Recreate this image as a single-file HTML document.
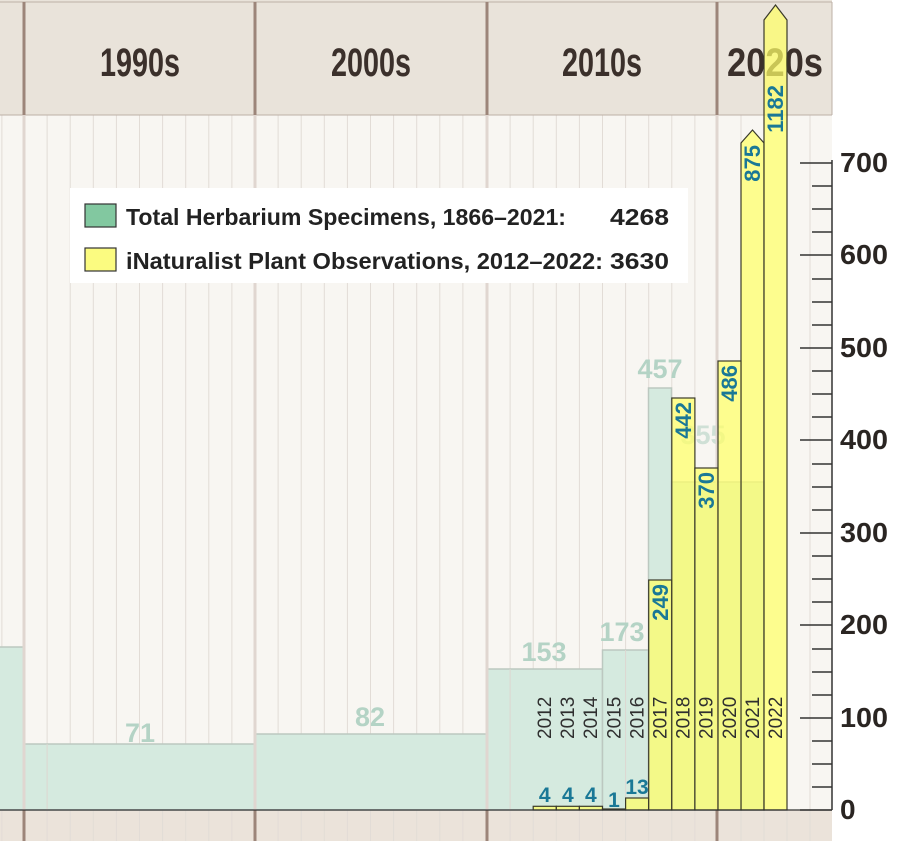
<!DOCTYPE html>
<html><head><meta charset="utf-8"><style>html,body{margin:0;padding:0;background:#fff}svg{display:block}</style></head><body>
<svg width="900" height="841" viewBox="0 0 900 841" xmlns="http://www.w3.org/2000/svg" font-family="Liberation Sans Narrow, Liberation Sans, sans-serif">
<rect x="0" y="0" width="832" height="115" fill="#e9e3da"/>
<rect x="0" y="115" width="832" height="695" fill="#f8f6f2"/>
<rect x="0" y="810" width="832" height="31" fill="#ebe3da"/>
<g stroke="#e2dcd6" stroke-width="1">
<line x1="1.9" y1="115" x2="1.9" y2="841"/><line x1="47.1" y1="115" x2="47.1" y2="841"/><line x1="70.2" y1="115" x2="70.2" y2="841"/><line x1="93.3" y1="115" x2="93.3" y2="841"/><line x1="116.4" y1="115" x2="116.4" y2="841"/><line x1="139.5" y1="115" x2="139.5" y2="841"/><line x1="162.6" y1="115" x2="162.6" y2="841"/><line x1="185.7" y1="115" x2="185.7" y2="841"/><line x1="208.8" y1="115" x2="208.8" y2="841"/><line x1="231.9" y1="115" x2="231.9" y2="841"/>
<line x1="278.1" y1="115" x2="278.1" y2="841"/><line x1="301.2" y1="115" x2="301.2" y2="841"/><line x1="324.3" y1="115" x2="324.3" y2="841"/><line x1="347.4" y1="115" x2="347.4" y2="841"/><line x1="370.5" y1="115" x2="370.5" y2="841"/><line x1="393.6" y1="115" x2="393.6" y2="841"/><line x1="416.7" y1="115" x2="416.7" y2="841"/><line x1="439.8" y1="115" x2="439.8" y2="841"/><line x1="462.9" y1="115" x2="462.9" y2="841"/>
<line x1="510.1" y1="115" x2="510.1" y2="841"/><line x1="533.2" y1="115" x2="533.2" y2="841"/><line x1="556.3" y1="115" x2="556.3" y2="841"/><line x1="579.4" y1="115" x2="579.4" y2="841"/><line x1="602.5" y1="115" x2="602.5" y2="841"/><line x1="625.6" y1="115" x2="625.6" y2="841"/><line x1="648.7" y1="115" x2="648.7" y2="841"/><line x1="671.8" y1="115" x2="671.8" y2="841"/><line x1="694.9" y1="115" x2="694.9" y2="841"/>
<line x1="741" y1="115" x2="741" y2="841"/><line x1="764" y1="115" x2="764" y2="841"/><line x1="787" y1="115" x2="787" y2="841"/><line x1="810" y1="115" x2="810" y2="841"/>
</g>
<g stroke="#bdb0a7" stroke-width="1"><line x1="0" y1="115" x2="832" y2="115"/><line x1="0" y1="2" x2="832" y2="2"/><line x1="832" y1="2" x2="832" y2="115"/></g>
<g fill="#d5eadf" stroke="#bcc8c0" stroke-width="1.5">
<rect x="-5" y="647" width="29" height="163"/>
<rect x="24" y="744" width="231" height="66"/>
<rect x="255" y="734" width="232" height="76"/>
<rect x="487" y="669" width="115.5" height="141"/>
<rect x="602.5" y="650" width="46" height="160"/>
<rect x="648.5" y="388" width="23" height="422"/>
<rect x="671.5" y="482" width="92.5" height="328"/>
</g>
<g stroke="#ddd6d0" stroke-width="1"><line x1="47.1" y1="744" x2="47.1" y2="810"/><line x1="510.1" y1="669" x2="510.1" y2="810"/><line x1="625.6" y1="650" x2="625.6" y2="810"/></g>
<g fill="#b4d3c5" font-weight="bold" font-size="27" text-anchor="middle">
<text x="140" y="742">71</text><text x="370" y="726">82</text><text x="544" y="661">153</text><text x="622" y="641">173</text><text x="660" y="378">457</text><text x="703" y="444" opacity="0.6">355</text>
</g>
<g stroke="#e0d6d0" stroke-width="3"><line x1="24" y1="115" x2="24" y2="810"/><line x1="255" y1="115" x2="255" y2="810"/><line x1="487" y1="115" x2="487" y2="810"/><line x1="717" y1="115" x2="717" y2="810"/></g>
<g stroke="#9c8579" stroke-width="3"><line x1="24" y1="2" x2="24" y2="115"/><line x1="255" y1="2" x2="255" y2="115"/><line x1="487" y1="2" x2="487" y2="115"/><line x1="717" y1="2" x2="717" y2="115"/>
<line x1="24" y1="810" x2="24" y2="841"/><line x1="255" y1="810" x2="255" y2="841"/><line x1="487" y1="810" x2="487" y2="841"/><line x1="717" y1="810" x2="717" y2="841"/></g>
<g fill="#3b302b" font-weight="bold" font-size="40" text-anchor="middle">
<text x="140" y="76" textLength="80" lengthAdjust="spacingAndGlyphs">1990s</text>
<text x="371" y="76" textLength="80" lengthAdjust="spacingAndGlyphs">2000s</text>
<text x="602" y="76" textLength="80" lengthAdjust="spacingAndGlyphs">2010s</text>
<text x="775" y="76" textLength="96" lengthAdjust="spacingAndGlyphs">2020s</text>
</g>
<g fill="#ffff66" fill-opacity="0.72" stroke="#3a3a2a" stroke-width="1.2">
<rect x="533.2" y="806.3" width="23.1" height="3.7"/>
<rect x="556.3" y="806.3" width="23.1" height="3.7"/>
<rect x="579.4" y="806.3" width="23.1" height="3.7"/>
<rect x="602.5" y="809" width="23.1" height="1"/>
<rect x="625.6" y="798" width="23.1" height="12"/>
<rect x="648.7" y="580" width="23.1" height="230"/>
<rect x="671.8" y="398" width="23.1" height="412"/>
<rect x="694.9" y="468" width="23.1" height="342"/>
<rect x="718" y="361" width="23.1" height="449"/>
<path d="M741 810 V143 L752.5 130 L764 143 V810 Z"/>
<path d="M764 810 V20 L775.5 5 L787 20 V810 Z"/>
</g>
<g fill="#1a7896" font-weight="bold" font-size="21">
<text x="544.7" y="802" text-anchor="middle">4</text><text x="567.8" y="802" text-anchor="middle">4</text><text x="590.9" y="802" text-anchor="middle">4</text><text x="614" y="807" text-anchor="middle">1</text><text x="637" y="794" text-anchor="middle">13</text>
<g font-size="22" text-anchor="end">
<text transform="translate(668,584) rotate(-90)">249</text>
<text transform="translate(691,402) rotate(-90)">442</text>
<text transform="translate(714,472) rotate(-90)">370</text>
<text transform="translate(737,365) rotate(-90)">486</text>
<text transform="translate(760,145) rotate(-90)">875</text>
<text transform="translate(783,85) rotate(-90)">1182</text>
</g></g>
<g fill="#2f2f2f" font-size="19" text-anchor="start">
<text transform="translate(551,739) rotate(-90)">2012</text>
<text transform="translate(574.1,739) rotate(-90)">2013</text>
<text transform="translate(597.2,739) rotate(-90)">2014</text>
<text transform="translate(620.3,739) rotate(-90)">2015</text>
<text transform="translate(643.4,739) rotate(-90)">2016</text>
<text transform="translate(666.5,739) rotate(-90)">2017</text>
<text transform="translate(689.6,739) rotate(-90)">2018</text>
<text transform="translate(712.7,739) rotate(-90)">2019</text>
<text transform="translate(735.8,739) rotate(-90)">2020</text>
<text transform="translate(758.9,739) rotate(-90)">2021</text>
<text transform="translate(782,739) rotate(-90)">2022</text>
</g>
<line x1="0" y1="810" x2="832" y2="810" stroke="#333" stroke-width="1.2"/>
<g stroke="#333" stroke-width="1.5">
<line x1="832" y1="160" x2="832" y2="810"/>
<line x1="800" y1="810" x2="832" y2="810"/><line x1="812" y1="787" x2="832" y2="787"/><line x1="812" y1="764" x2="832" y2="764"/><line x1="812" y1="741" x2="832" y2="741"/>
<line x1="800" y1="718" x2="832" y2="718"/><line x1="812" y1="695" x2="832" y2="695"/><line x1="812" y1="672" x2="832" y2="672"/><line x1="812" y1="649" x2="832" y2="649"/>
<line x1="800" y1="625" x2="832" y2="625"/><line x1="812" y1="602" x2="832" y2="602"/><line x1="812" y1="579" x2="832" y2="579"/><line x1="812" y1="556" x2="832" y2="556"/>
<line x1="800" y1="533" x2="832" y2="533"/><line x1="812" y1="510" x2="832" y2="510"/><line x1="812" y1="487" x2="832" y2="487"/><line x1="812" y1="464" x2="832" y2="464"/>
<line x1="800" y1="440" x2="832" y2="440"/><line x1="812" y1="417" x2="832" y2="417"/><line x1="812" y1="394" x2="832" y2="394"/><line x1="812" y1="371" x2="832" y2="371"/>
<line x1="800" y1="348" x2="832" y2="348"/><line x1="812" y1="325" x2="832" y2="325"/><line x1="812" y1="302" x2="832" y2="302"/><line x1="812" y1="279" x2="832" y2="279"/>
<line x1="800" y1="255" x2="832" y2="255"/><line x1="812" y1="232" x2="832" y2="232"/><line x1="812" y1="209" x2="832" y2="209"/><line x1="812" y1="186" x2="832" y2="186"/>
<line x1="800" y1="163" x2="832" y2="163"/>
</g>
<g fill="#2a2522" font-weight="bold" font-size="28">
<text x="840" y="819">0</text>
<text x="840" y="727" textLength="48" lengthAdjust="spacingAndGlyphs">100</text>
<text x="840" y="634" textLength="48" lengthAdjust="spacingAndGlyphs">200</text>
<text x="840" y="542" textLength="48" lengthAdjust="spacingAndGlyphs">300</text>
<text x="840" y="449" textLength="48" lengthAdjust="spacingAndGlyphs">400</text>
<text x="840" y="357" textLength="48" lengthAdjust="spacingAndGlyphs">500</text>
<text x="840" y="264" textLength="48" lengthAdjust="spacingAndGlyphs">600</text>
<text x="840" y="172" textLength="48" lengthAdjust="spacingAndGlyphs">700</text>
</g>
<rect x="70" y="188" width="618" height="95" fill="#fff"/>
<rect x="85" y="204" width="31" height="23" fill="#82c8a0" stroke="#333" stroke-width="1.2"/>
<rect x="85" y="248" width="31" height="23" fill="#fbfb80" stroke="#333" stroke-width="1.2"/>
<g fill="#222" font-weight="bold" font-size="23">
<text x="126" y="225" textLength="440" lengthAdjust="spacingAndGlyphs">Total Herbarium Specimens, 1866–2021:</text>
<text x="610" y="225" textLength="59" lengthAdjust="spacingAndGlyphs">4268</text>
<text x="126" y="269" textLength="477" lengthAdjust="spacingAndGlyphs">iNaturalist Plant Observations, 2012–2022:</text>
<text x="610" y="269" textLength="59" lengthAdjust="spacingAndGlyphs">3630</text>
</g>
</svg>
</body></html>
